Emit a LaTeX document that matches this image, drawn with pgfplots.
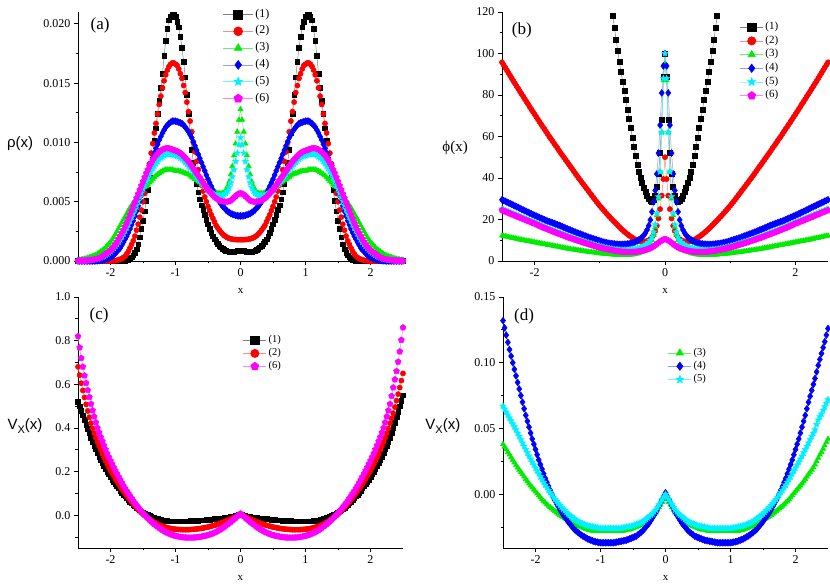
\documentclass[border=0pt]{standalone}
\usepackage{fontspec}
\setmainfont{Liberation Serif}
\newfontfamily\lsans{Liberation Sans}
\usepackage{pgfplots}
\usepackage{pgfplotstable}
\pgfplotsset{compat=1.18}

\definecolor{ogreen}{RGB}{0,235,0}
\definecolor{ocyan}{RGB}{0,240,255}
\definecolor{omag}{RGB}{255,0,255}

\pgfdeclareplotmark{fstar}{%
  \pgfpathmoveto{\pgfpointpolar{90}{\pgfplotmarksize}}%
  \pgfpathlineto{\pgfpointpolar{126}{0.45\pgfplotmarksize}}%
  \pgfpathlineto{\pgfpointpolar{162}{\pgfplotmarksize}}%
  \pgfpathlineto{\pgfpointpolar{198}{0.45\pgfplotmarksize}}%
  \pgfpathlineto{\pgfpointpolar{234}{\pgfplotmarksize}}%
  \pgfpathlineto{\pgfpointpolar{270}{0.45\pgfplotmarksize}}%
  \pgfpathlineto{\pgfpointpolar{306}{\pgfplotmarksize}}%
  \pgfpathlineto{\pgfpointpolar{342}{0.45\pgfplotmarksize}}%
  \pgfpathlineto{\pgfpointpolar{18}{\pgfplotmarksize}}%
  \pgfpathlineto{\pgfpointpolar{54}{0.45\pgfplotmarksize}}%
  \pgfpathclose
  \pgfusepathqfillstroke
}

\pgfplotsset{
  s1/.style={color=black!50, line width=0.5pt, mark=square*, mark size=2.3pt, mark options={draw=black, fill=black}},
  s2/.style={color=red!45, line width=0.5pt, mark=*, mark size=2.6pt, mark options={draw=red, fill=red}},
  s3/.style={color=ogreen!60, line width=0.5pt, mark=triangle*, mark size=3.0pt, mark options={draw=ogreen, fill=ogreen}},
  s4/.style={color=blue!40, line width=0.5pt, mark=diamond*, mark size=3.4pt, mark options={draw=blue, fill=blue}},
  s5/.style={color=ocyan!60, line width=0.5pt, mark=fstar, mark size=3.2pt, mark options={draw=ocyan, fill=ocyan}},
  s6/.style={color=omag!50, line width=0.5pt, mark=pentagon*, mark size=3.1pt, mark options={draw=omag, fill=omag}},
  base/.style={
    scale only axis, clip=false,
    axis x line*=bottom, axis y line*=left,
    axis line style={line width=0.8pt},
    tick align=outside, major tick length=4pt, minor tick length=2.5pt,
    tick style={black, line width=0.8pt},
    xmin=-2.5, xmax=2.5,
    /pgf/number format/assume math mode=true,
    tick label style={font=\fontsize{12}{12}\selectfont},
    xlabel={x},
    xlabel style={font=\fontsize{11}{11}\selectfont, at={(axis description cs:0.5,-0.12)}, anchor=center},
    scaled y ticks=false,
    legend cell align=left,
    legend image post style={mark size=4.5pt},
  },
  legA/.style={legend image code/.code={\draw[mark repeat=2,mark phase=2,##1] plot coordinates {(0pt,0pt) (15pt,0pt) (30pt,0pt)};}},
  legB/.style={legend image code/.code={\draw[mark repeat=2,mark phase=2,##1] plot coordinates {(0pt,0pt) (11.5pt,0pt) (23pt,0pt)};}},
}

\pgfplotstableread{
x k1 r2 g3 b4 c5 m6
-2.5 0 0 .00008 0 .00001 .00001
-2.475 0 0 .0001 0 .000015 .000015
-2.45 0 0 .00012 0 .00002 .00002
-2.425 0 0 .00015 0 .000025 .000025
-2.4 0 0 .00018 0 .00003 .00003
-2.375 0 0 .00021 0 .00004 .00004
-2.35 0 0 .00025 0 .00005 .00005
-2.325 0 0 .0003 0 .00006 .00006
-2.3 0 0 .00035 0 .00008 .00008
-2.275 0 0 .0004 0 .0001 .0001
-2.25 0 0 .00045 0 .00013 .00013
-2.225 0 0 .00052 .00001 .00016 .00016
-2.2 0 0 .0006 .00002 .0002 .0002
-2.175 0 0 .0007 .00003 .00025 .00025
-2.15 0 0 .0008 .00005 .0003 .0003
-2.125 0 0 .0009 .00007 .00035 .0004
-2.1 0 0 .001 .0001 .0004 .0005
-2.075 0 0 .00115 .00015 .0005 .0006
-2.05 0 0 .0013 .0002 .0006 .0007
-2.025 0 0 .00145 .00025 .0007 .0008
-2.0 0 0 .0016 .0003 .0008 .0009
-1.975 0 .00001 .0018 .0004 .00095 .00105
-1.95 0 .00002 .002 .0005 .0011 .0012
-1.925 0 .00004 .00225 .00065 .00125 .0014
-1.9 0 .00006 .0025 .0008 .0014 .0016
-1.875 0 .0001 .00275 .00095 .0016 .00185
-1.85 0 .00015 .003 .0011 .0018 .0021
-1.825 .00001 .0002 .00325 .00135 .00205 .00235
-1.8 .00002 .0003 .0035 .0016 .0023 .0026
-1.775 .00004 .0004 .00375 .00185 .00255 .0029
-1.75 .00007 .0006 .004 .0021 .0028 .0032
-1.725 .0001 .0008 .00425 .0024 .0031 .00355
-1.7 .0002 .0011 .0045 .0027 .0034 .0039
-1.675 .0003 .0014 .0047 .00305 .0037 .00425
-1.65 .0005 .0017 .0049 .0034 .004 .0046
-1.625 .0007 .0021 .0051 .0038 .00435 .00495
-1.6 .001 .0026 .0053 .0042 .0047 .0053
-1.575 .0014 .0031 .0055 .00465 .00505 .00565
-1.55 .002 .0037 .0057 .0051 .0054 .006
-1.525 .0027 .0043 .0059 .00555 .00575 .00635
-1.5 .0034 .005 .0061 .006 .0061 .0067
-1.475 .0042 .0057 .0062 .00645 .0064 .00705
-1.45 .0051 .0065 .0063 .0069 .0067 .0074
-1.425 .006 .0073 .00645 .00735 .007 .0077
-1.4 .007 .0082 .0066 .0078 .0073 .008
-1.375 .008 .0091 .00675 .00825 .00755 .00825
-1.35 .0091 .0099 .0069 .0087 .0078 .0085
-1.325 .0102 .0108 .00705 .0091 .008 .0087
-1.3 .0112 .0116 .0072 .0095 .0082 .0089
-1.275 .0124 .0124 .0073 .00985 .0084 .00905
-1.25 .0135 .0132 .0074 .0102 .0086 .0092
-1.225 .0146 .0139 .0075 .0105 .0087 .0093
-1.2 .0158 .0146 .0076 .0108 .0088 .0094
-1.175 .0173 .0152 .00765 .01105 .0089 .00945
-1.15 .0186 .0157 .0077 .0113 .009 .0095
-1.125 .0196 .0161 .0077 .01145 .009 .0095
-1.1 .0203 .0164 .0077 .0116 .009 .0095
-1.075 .0206 .0166 .0077 .0117 .009 .00945
-1.05 .0208 .0167 .0077 .0118 .009 .0094
-1.025 .0208 .0167 .00765 .0118 .00895 .00935
-1.0 .0206 .0166 .0076 .0118 .0089 .0093
-0.975 .0202 .0165 .0076 .01175 .00885 .00925
-0.95 .0197 .0162 .0076 .0117 .0088 .0092
-0.925 .0189 .0158 .00755 .01165 .0087 .0091
-0.9 .018 .0154 .0075 .0116 .0086 .009
-0.875 .0168 .0148 .00745 .01145 .00845 .00885
-0.85 .0155 .0142 .0074 .0113 .0083 .0087
-0.825 .014 .0134 .00735 .0111 .00815 .00855
-0.8 .0124 .0126 .0073 .0109 .008 .0084
-0.775 .0108 .0118 .0072 .01065 .00785 .0082
-0.75 .0094 .0109 .0071 .0104 .0077 .008
-0.725 .0083 .01 .007 .01005 .0075 .0078
-0.7 .0073 .0092 .0069 .0097 .0073 .0076
-0.675 .0065 .0084 .0068 .00935 .0071 .0074
-0.65 .0058 .0077 .0067 .009 .0069 .0072
-0.625 .0052 .007 .0066 .00865 .00675 .007
-0.6 .0047 .0064 .0065 .0083 .0066 .0068
-0.575 .0043 .0059 .0064 .00795 .00645 .0066
-0.55 .0039 .0054 .0063 .0076 .0063 .0064
-0.525 .0035 .005 .0062 .00725 .00615 .0062
-0.5 .0031 .0046 .0061 .0069 .006 .006
-0.475 .00273 .00425 .006 .0066 .0059 .00585
-0.45 .0024 .0039 .0059 .0063 .0058 .0057
-0.425 .0021 .0036 .00585 .006 .0057 .00555
-0.4 .00185 .0033 .0058 .0057 .0056 .0054
-0.375 .00164 .003 .00575 .00545 .00555 .0053
-0.35 .00146 .0028 .0057 .0052 .0055 .0052
-0.325 .0013 .0026 .0057 .005 .0055 .0051
-0.3 .00117 .00243 .0057 .0048 .0055 .00505
-0.275 .00105 .00228 .0057 .0046 .0055 .00502
-0.25 .00095 .00215 .0058 .0045 .0056 .005
-0.225 .00088 .00205 .006 .0043 .0057 .00498
-0.2 .00083 .00197 .0063 .0042 .0059 .005
-0.175 .0008 .00191 .0067 .0041 .0062 .00503
-0.15 .00079 .00187 .0073 .004 .0066 .0051
-0.125 .00079 .00184 .008 .00395 .0071 .00522
-0.1 .0008 .00182 .0089 .0039 .0077 .00535
-0.075 .00082 .00181 .0099 .00385 .0084 .00548
-0.05 .00085 .0018 .0109 .00382 .0091 .0056
-0.025 .00088 .0018 .0119 .0038 .0098 .00568
0 .0009 .0018 .0128 .0038 .0104 .0057
0.025 .00088 .0018 .0119 .0038 .0098 .00568
0.05 .00085 .0018 .0109 .00382 .0091 .0056
0.075 .00082 .00181 .0099 .00385 .0084 .00548
0.1 .0008 .00182 .0089 .0039 .0077 .00535
0.125 .00079 .00184 .008 .00395 .0071 .00522
0.15 .00079 .00187 .0073 .004 .0066 .0051
0.175 .0008 .00191 .0067 .0041 .0062 .00503
0.2 .00083 .00197 .0063 .0042 .0059 .005
0.225 .00088 .00205 .006 .0043 .0057 .00498
0.25 .00095 .00215 .0058 .0045 .0056 .005
0.275 .00105 .00228 .0057 .0046 .0055 .00502
0.3 .00117 .00243 .0057 .0048 .0055 .00505
0.325 .0013 .0026 .0057 .005 .0055 .0051
0.35 .00146 .0028 .0057 .0052 .0055 .0052
0.375 .00164 .003 .00575 .00545 .00555 .0053
0.4 .00185 .0033 .0058 .0057 .0056 .0054
0.425 .0021 .0036 .00585 .006 .0057 .00555
0.45 .0024 .0039 .0059 .0063 .0058 .0057
0.475 .00273 .00425 .006 .0066 .0059 .00585
0.5 .0031 .0046 .0061 .0069 .006 .006
0.525 .0035 .005 .0062 .00725 .00615 .0062
0.55 .0039 .0054 .0063 .0076 .0063 .0064
0.575 .0043 .0059 .0064 .00795 .00645 .0066
0.6 .0047 .0064 .0065 .0083 .0066 .0068
0.625 .0052 .007 .0066 .00865 .00675 .007
0.65 .0058 .0077 .0067 .009 .0069 .0072
0.675 .0065 .0084 .0068 .00935 .0071 .0074
0.7 .0073 .0092 .0069 .0097 .0073 .0076
0.725 .0083 .01 .007 .01005 .0075 .0078
0.75 .0094 .0109 .0071 .0104 .0077 .008
0.775 .0108 .0118 .0072 .01065 .00785 .0082
0.8 .0124 .0126 .0073 .0109 .008 .0084
0.825 .014 .0134 .00735 .0111 .00815 .00855
0.85 .0155 .0142 .0074 .0113 .0083 .0087
0.875 .0168 .0148 .00745 .01145 .00845 .00885
0.9 .018 .0154 .0075 .0116 .0086 .009
0.925 .0189 .0158 .00755 .01165 .0087 .0091
0.95 .0197 .0162 .0076 .0117 .0088 .0092
0.975 .0202 .0165 .0076 .01175 .00885 .00925
1.0 .0206 .0166 .0076 .0118 .0089 .0093
1.025 .0208 .0167 .00765 .0118 .00895 .00935
1.05 .0208 .0167 .0077 .0118 .009 .0094
1.075 .0206 .0166 .0077 .0117 .009 .00945
1.1 .0203 .0164 .0077 .0116 .009 .0095
1.125 .0196 .0161 .0077 .01145 .009 .0095
1.15 .0186 .0157 .0077 .0113 .009 .0095
1.175 .0173 .0152 .00765 .01105 .0089 .00945
1.2 .0158 .0146 .0076 .0108 .0088 .0094
1.225 .0146 .0139 .0075 .0105 .0087 .0093
1.25 .0135 .0132 .0074 .0102 .0086 .0092
1.275 .0124 .0124 .0073 .00985 .0084 .00905
1.3 .0112 .0116 .0072 .0095 .0082 .0089
1.325 .0102 .0108 .00705 .0091 .008 .0087
1.35 .0091 .0099 .0069 .0087 .0078 .0085
1.375 .008 .0091 .00675 .00825 .00755 .00825
1.4 .007 .0082 .0066 .0078 .0073 .008
1.425 .006 .0073 .00645 .00735 .007 .0077
1.45 .0051 .0065 .0063 .0069 .0067 .0074
1.475 .0042 .0057 .0062 .00645 .0064 .00705
1.5 .0034 .005 .0061 .006 .0061 .0067
1.525 .0027 .0043 .0059 .00555 .00575 .00635
1.55 .002 .0037 .0057 .0051 .0054 .006
1.575 .0014 .0031 .0055 .00465 .00505 .00565
1.6 .001 .0026 .0053 .0042 .0047 .0053
1.625 .0007 .0021 .0051 .0038 .00435 .00495
1.65 .0005 .0017 .0049 .0034 .004 .0046
1.675 .0003 .0014 .0047 .00305 .0037 .00425
1.7 .0002 .0011 .0045 .0027 .0034 .0039
1.725 .0001 .0008 .00425 .0024 .0031 .00355
1.75 .00007 .0006 .004 .0021 .0028 .0032
1.775 .00004 .0004 .00375 .00185 .00255 .0029
1.8 .00002 .0003 .0035 .0016 .0023 .0026
1.825 .00001 .0002 .00325 .00135 .00205 .00235
1.85 0 .00015 .003 .0011 .0018 .0021
1.875 0 .0001 .00275 .00095 .0016 .00185
1.9 0 .00006 .0025 .0008 .0014 .0016
1.925 0 .00004 .00225 .00065 .00125 .0014
1.95 0 .00002 .002 .0005 .0011 .0012
1.975 0 .00001 .0018 .0004 .00095 .00105
2.0 0 0 .0016 .0003 .0008 .0009
2.025 0 0 .00145 .00025 .0007 .0008
2.05 0 0 .0013 .0002 .0006 .0007
2.075 0 0 .00115 .00015 .0005 .0006
2.1 0 0 .001 .0001 .0004 .0005
2.125 0 0 .0009 .00007 .00035 .0004
2.15 0 0 .0008 .00005 .0003 .0003
2.175 0 0 .0007 .00003 .00025 .00025
2.2 0 0 .0006 .00002 .0002 .0002
2.225 0 0 .00052 .00001 .00016 .00016
2.25 0 0 .00045 0 .00013 .00013
2.275 0 0 .0004 0 .0001 .0001
2.3 0 0 .00035 0 .00008 .00008
2.325 0 0 .0003 0 .00006 .00006
2.35 0 0 .00025 0 .00005 .00005
2.375 0 0 .00021 0 .00004 .00004
2.4 0 0 .00018 0 .00003 .00003
2.425 0 0 .00015 0 .000025 .000025
2.45 0 0 .00012 0 .00002 .00002
2.475 0 0 .0001 0 .000015 .000015
2.5 0 0 .00008 0 .00001 .00001
}\tabA

\pgfplotstableread{
x y
-0.8 118
-0.775 112.2
-0.75 106.6
-0.725 101.2
-0.7 96
-0.675 91
-0.65 86.5
-0.625 82
-0.6 77.5
-0.575 73
-0.55 68.5
-0.525 64
-0.5 59.5
-0.475 55
-0.45 50.5
-0.425 46.5
-0.4 43
-0.375 40.3
-0.35 37.8
-0.325 35.5
-0.3 33.5
-0.275 31.5
-0.25 29.8
-0.225 28.8
-0.2 28.5
-0.175 29.3
-0.15 31.5
-0.125 36
-0.1 42
-0.075 52
-0.05 68
-0.025 89
0 100
0.025 89
0.05 68
0.075 52
0.1 42
0.125 36
0.15 31.5
0.175 29.3
0.2 28.5
0.225 28.8
0.25 29.8
0.275 31.5
0.3 33.5
0.325 35.5
0.35 37.8
0.375 40.3
0.4 43
0.425 46.5
0.45 50.5
0.475 55
0.5 59.5
0.525 64
0.55 68.5
0.575 73
0.6 77.5
0.625 82
0.65 86.5
0.675 91
0.7 96
0.725 101.2
0.75 106.6
0.775 112.2
0.8 118
}\tabBk

\pgfplotstableread{
x r2 g3 b4 c5 m6
-2.5 95.75 12.2 29.5 25.1 24.5
-2.475 94.5 12.05 29.15 24.75 24.15
-2.45 93.2 11.9 28.8 24.4 23.8
-2.425 91.9 11.7 28.4 24.1 23.5
-2.4 90.6 11.5 28 23.8 23.2
-2.375 89.3 11.35 27.65 23.45 22.85
-2.35 88 11.2 27.3 23.1 22.5
-2.325 86.7 11.05 26.9 22.8 22.2
-2.3 85.5 10.9 26.5 22.5 21.9
-2.275 84.2 10.7 26.15 22.15 21.55
-2.25 83 10.5 25.8 21.8 21.2
-2.225 81.7 10.35 25.4 21.5 20.9
-2.2 80.5 10.2 25 21.2 20.6
-2.175 79.3 10.05 24.6 20.85 20.25
-2.15 78 9.9 24.2 20.5 19.9
-2.125 76.8 9.75 23.85 20.2 19.6
-2.1 75.6 9.6 23.5 19.9 19.3
-2.075 74.3 9.45 23.1 19.55 18.95
-2.05 73.1 9.3 22.7 19.2 18.6
-2.025 71.9 9.15 22.35 18.9 18.3
-2.0 70.7 9 22 18.6 18
-1.975 69.5 8.85 21.65 18.25 17.65
-1.95 68.3 8.7 21.3 17.9 17.3
-1.925 67.1 8.55 20.95 17.55 16.95
-1.9 65.9 8.4 20.6 17.2 16.6
-1.875 64.7 8.25 20.25 16.85 16.25
-1.85 63.6 8.1 19.9 16.5 15.9
-1.825 62.4 7.95 19.55 16.2 15.6
-1.8 61.2 7.8 19.2 15.9 15.3
-1.775 60 7.65 18.95 15.55 14.95
-1.75 58.9 7.5 18.7 15.2 14.6
-1.725 57.8 7.35 18.4 14.9 14.3
-1.7 56.6 7.2 18.1 14.6 14
-1.675 55.5 7.05 17.8 14.3 13.7
-1.65 54.4 6.9 17.5 14 13.4
-1.625 53.2 6.75 17.2 13.7 13.1
-1.6 52.1 6.6 16.9 13.4 12.8
-1.575 51 6.45 16.55 13.1 12.5
-1.55 49.9 6.3 16.2 12.8 12.2
-1.525 48.8 6.15 15.85 12.5 11.9
-1.5 47.7 6 15.5 12.2 11.6
-1.475 46.6 5.85 15.2 11.9 11.3
-1.45 45.5 5.7 14.9 11.6 11
-1.425 44.4 5.6 14.55 11.35 10.75
-1.4 43.3 5.5 14.2 11.1 10.5
-1.375 42.2 5.35 13.9 10.8 10.2
-1.35 41.1 5.2 13.6 10.5 9.9
-1.325 40 5.1 13.3 10.25 9.65
-1.3 39 5 13 10 9.4
-1.275 37.9 4.85 12.7 9.75 9.15
-1.25 36.9 4.7 12.4 9.5 8.9
-1.225 35.8 4.6 12.1 9.25 8.65
-1.2 34.8 4.5 11.8 9 8.4
-1.175 33.8 4.4 11.5 8.75 8.15
-1.15 32.7 4.3 11.2 8.5 7.9
-1.125 31.7 4.2 10.95 8.25 7.65
-1.1 30.65 4.1 10.7 8 7.4
-1.075 29.6 4 10.45 7.75 7.15
-1.05 28.6 3.9 10.2 7.5 6.9
-1.025 27.6 3.8 9.95 7.3 6.7
-1.0 26.6 3.7 9.7 7.1 6.5
-0.975 25.7 3.6 9.45 6.9 6.3
-0.95 24.8 3.5 9.2 6.7 6.1
-0.925 23.9 3.45 9 6.5 5.9
-0.9 23 3.4 8.8 6.3 5.7
-0.875 22.1 3.3 8.65 6.15 5.55
-0.85 21.3 3.2 8.5 6 5.4
-0.825 20.4 3.15 8.4 5.85 5.25
-0.8 19.6 3.1 8.3 5.7 5.1
-0.775 18.8 3.05 8.2 5.6 4.95
-0.75 18 3 8.1 5.5 4.8
-0.725 17.2 2.95 8.05 5.4 4.7
-0.7 16.4 2.9 8 5.3 4.6
-0.675 15.6 2.9 8 5.25 4.5
-0.65 14.9 2.9 8 5.2 4.4
-0.625 14.2 2.9 8.05 5.2 4.35
-0.6 13.5 2.9 8.1 5.2 4.3
-0.575 12.9 2.95 8.2 5.25 4.27
-0.55 12.3 3 8.3 5.3 4.25
-0.525 11.7 3.05 8.5 5.4 4.27
-0.5 11.2 3.1 8.7 5.5 4.3
-0.475 10.7 3.25 9 5.65 4.35
-0.45 10.3 3.4 9.3 5.8 4.4
-0.425 9.9 3.6 9.7 6 4.5
-0.4 9.6 3.8 10.2 6.2 4.6
-0.375 9.4 4.1 10.8 6.5 4.75
-0.35 9.3 4.4 11.5 6.8 4.9
-0.325 9.3 4.8 12.4 7.2 5.1
-0.3 9.4 5.3 13.5 7.6 5.3
-0.275 9.6 6 15 8.2 5.6
-0.25 10 7 17 9 5.9
-0.225 10.6 8.2 19.8 10 6.2
-0.2 11.5 10 23.7 11.5 6.6
-0.175 12.7 12.5 28.5 14 7.1
-0.15 14.5 16.5 34 17.5 7.6
-0.125 17 22 42 23 8.2
-0.1 20.5 30 52 31 8.8
-0.075 25 43 65.5 43 9.4
-0.05 31.5 62 81 62 9.9
-0.025 39.5 87 94 88 10.3
0 50 95 100 100 10.5
0.025 39.5 87 94 88 10.3
0.05 31.5 62 81 62 9.9
0.075 25 43 65.5 43 9.4
0.1 20.5 30 52 31 8.8
0.125 17 22 42 23 8.2
0.15 14.5 16.5 34 17.5 7.6
0.175 12.7 12.5 28.5 14 7.1
0.2 11.5 10 23.7 11.5 6.6
0.225 10.6 8.2 19.8 10 6.2
0.25 10 7 17 9 5.9
0.275 9.6 6 15 8.2 5.6
0.3 9.4 5.3 13.5 7.6 5.3
0.325 9.3 4.8 12.4 7.2 5.1
0.35 9.3 4.4 11.5 6.8 4.9
0.375 9.4 4.1 10.8 6.5 4.75
0.4 9.6 3.8 10.2 6.2 4.6
0.425 9.9 3.6 9.7 6 4.5
0.45 10.3 3.4 9.3 5.8 4.4
0.475 10.7 3.25 9 5.65 4.35
0.5 11.2 3.1 8.7 5.5 4.3
0.525 11.7 3.05 8.5 5.4 4.27
0.55 12.3 3 8.3 5.3 4.25
0.575 12.9 2.95 8.2 5.25 4.27
0.6 13.5 2.9 8.1 5.2 4.3
0.625 14.2 2.9 8.05 5.2 4.35
0.65 14.9 2.9 8 5.2 4.4
0.675 15.6 2.9 8 5.25 4.5
0.7 16.4 2.9 8 5.3 4.6
0.725 17.2 2.95 8.05 5.4 4.7
0.75 18 3 8.1 5.5 4.8
0.775 18.8 3.05 8.2 5.6 4.95
0.8 19.6 3.1 8.3 5.7 5.1
0.825 20.4 3.15 8.4 5.85 5.25
0.85 21.3 3.2 8.5 6 5.4
0.875 22.1 3.3 8.65 6.15 5.55
0.9 23 3.4 8.8 6.3 5.7
0.925 23.9 3.45 9 6.5 5.9
0.95 24.8 3.5 9.2 6.7 6.1
0.975 25.7 3.6 9.45 6.9 6.3
1.0 26.6 3.7 9.7 7.1 6.5
1.025 27.6 3.8 9.95 7.3 6.7
1.05 28.6 3.9 10.2 7.5 6.9
1.075 29.6 4 10.45 7.75 7.15
1.1 30.65 4.1 10.7 8 7.4
1.125 31.7 4.2 10.95 8.25 7.65
1.15 32.7 4.3 11.2 8.5 7.9
1.175 33.8 4.4 11.5 8.75 8.15
1.2 34.8 4.5 11.8 9 8.4
1.225 35.8 4.6 12.1 9.25 8.65
1.25 36.9 4.7 12.4 9.5 8.9
1.275 37.9 4.85 12.7 9.75 9.15
1.3 39 5 13 10 9.4
1.325 40 5.1 13.3 10.25 9.65
1.35 41.1 5.2 13.6 10.5 9.9
1.375 42.2 5.35 13.9 10.8 10.2
1.4 43.3 5.5 14.2 11.1 10.5
1.425 44.4 5.6 14.55 11.35 10.75
1.45 45.5 5.7 14.9 11.6 11
1.475 46.6 5.85 15.2 11.9 11.3
1.5 47.7 6 15.5 12.2 11.6
1.525 48.8 6.15 15.85 12.5 11.9
1.55 49.9 6.3 16.2 12.8 12.2
1.575 51 6.45 16.55 13.1 12.5
1.6 52.1 6.6 16.9 13.4 12.8
1.625 53.2 6.75 17.2 13.7 13.1
1.65 54.4 6.9 17.5 14 13.4
1.675 55.5 7.05 17.8 14.3 13.7
1.7 56.6 7.2 18.1 14.6 14
1.725 57.8 7.35 18.4 14.9 14.3
1.75 58.9 7.5 18.7 15.2 14.6
1.775 60 7.65 18.95 15.55 14.95
1.8 61.2 7.8 19.2 15.9 15.3
1.825 62.4 7.95 19.55 16.2 15.6
1.85 63.6 8.1 19.9 16.5 15.9
1.875 64.7 8.25 20.25 16.85 16.25
1.9 65.9 8.4 20.6 17.2 16.6
1.925 67.1 8.55 20.95 17.55 16.95
1.95 68.3 8.7 21.3 17.9 17.3
1.975 69.5 8.85 21.65 18.25 17.65
2.0 70.7 9 22 18.6 18
2.025 71.9 9.15 22.35 18.9 18.3
2.05 73.1 9.3 22.7 19.2 18.6
2.075 74.3 9.45 23.1 19.55 18.95
2.1 75.6 9.6 23.5 19.9 19.3
2.125 76.8 9.75 23.85 20.2 19.6
2.15 78 9.9 24.2 20.5 19.9
2.175 79.3 10.05 24.6 20.85 20.25
2.2 80.5 10.2 25 21.2 20.6
2.225 81.7 10.35 25.4 21.5 20.9
2.25 83 10.5 25.8 21.8 21.2
2.275 84.2 10.7 26.15 22.15 21.55
2.3 85.5 10.9 26.5 22.5 21.9
2.325 86.7 11.05 26.9 22.8 22.2
2.35 88 11.2 27.3 23.1 22.5
2.375 89.3 11.35 27.65 23.45 22.85
2.4 90.6 11.5 28 23.8 23.2
2.425 91.9 11.7 28.4 24.1 23.5
2.45 93.2 11.9 28.8 24.4 23.8
2.475 94.5 12.05 29.15 24.75 24.15
2.5 95.75 12.2 29.5 25.1 24.5
}\tabB

\pgfplotstableread{
x k1 r2 m6
-2.5 .52 .68 .82
-2.475 .5 .642 .768
-2.45 .48 .605 .72
-2.425 .458 .572 .68
-2.4 .437 .54 .64
-2.375 .416 .508 .606
-2.35 .395 .478 .573
-2.325 .375 .449 .541
-2.3 .355 .422 .51
-2.275 .337 .398 .48
-2.25 .319 .376 .452
-2.225 .302 .355 .425
-2.2 .285 .335 .4
-2.175 .269 .317 .379
-2.15 .254 .299 .358
-2.125 .239 .282 .339
-2.1 .225 .265 .32
-2.075 .212 .2495 .301
-2.05 .199 .234 .283
-2.025 .187 .2195 .2665
-2.0 .175 .205 .25
-1.975 .164 .1925 .2345
-1.95 .153 .18 .219
-1.925 .143 .1675 .2045
-1.9 .133 .155 .19
-1.875 .123 .1435 .176
-1.85 .113 .132 .162
-1.825 .104 .121 .1485
-1.8 .095 .11 .135
-1.775 .087 .1 .123
-1.75 .079 .09 .111
-1.725 .071 .08 .0995
-1.7 .063 .07 .088
-1.675 .0555 .061 .077
-1.65 .048 .052 .066
-1.625 .0415 .0435 .056
-1.6 .035 .035 .046
-1.575 .029 .027 .0365
-1.55 .023 .019 .027
-1.525 .018 .012 .0185
-1.5 .013 .005 .01
-1.475 .009 -.001 .002
-1.45 .005 -.007 -.006
-1.425 .001 -.0125 -.0135
-1.4 -.003 -.018 -.021
-1.375 -.006 -.023 -.028
-1.35 -.009 -.028 -.035
-1.325 -.012 -.032 -.041
-1.3 -.015 -.036 -.047
-1.275 -.017 -.04 -.0525
-1.25 -.019 -.044 -.058
-1.225 -.021 -.047 -.063
-1.2 -.023 -.05 -.068
-1.175 -.024 -.0525 -.0725
-1.15 -.025 -.055 -.077
-1.125 -.026 -.057 -.0805
-1.1 -.027 -.059 -.084
-1.075 -.0275 -.0605 -.087
-1.05 -.028 -.062 -.09
-1.025 -.028 -.063 -.0925
-1.0 -.028 -.064 -.095
-0.975 -.028 -.0645 -.0965
-0.95 -.028 -.065 -.098
-0.925 -.028 -.0655 -.0995
-0.9 -.028 -.066 -.101
-0.875 -.0275 -.066 -.1015
-0.85 -.027 -.066 -.102
-0.825 -.027 -.066 -.1025
-0.8 -.027 -.066 -.103
-0.775 -.0265 -.0655 -.103
-0.75 -.026 -.065 -.103
-0.725 -.0255 -.0645 -.1025
-0.7 -.025 -.064 -.102
-0.675 -.0245 -.063 -.101
-0.65 -.024 -.062 -.1
-0.625 -.0235 -.061 -.099
-0.6 -.023 -.06 -.098
-0.575 -.0225 -.0585 -.0965
-0.55 -.022 -.057 -.095
-0.525 -.021 -.0555 -.093
-0.5 -.02 -.054 -.091
-0.475 -.0195 -.052 -.0885
-0.45 -.019 -.05 -.086
-0.425 -.018 -.048 -.083
-0.4 -.017 -.046 -.08
-0.375 -.0165 -.0435 -.076
-0.35 -.016 -.041 -.072
-0.325 -.015 -.0385 -.0675
-0.3 -.014 -.036 -.063
-0.275 -.013 -.033 -.058
-0.25 -.012 -.03 -.053
-0.225 -.011 -.027 -.0475
-0.2 -.01 -.024 -.042
-0.175 -.0085 -.0205 -.036
-0.15 -.007 -.017 -.03
-0.125 -.0055 -.0135 -.024
-0.1 -.004 -.01 -.018
-0.075 -.002 -.0065 -.0115
-0.05 0 -.003 -.005
-0.025 .0025 .001 .0015
0 .005 .005 .008
0.025 .0025 .001 .0015
0.05 0 -.003 -.005
0.075 -.002 -.0065 -.0115
0.1 -.004 -.01 -.018
0.125 -.0055 -.0135 -.024
0.15 -.007 -.017 -.03
0.175 -.0085 -.0205 -.036
0.2 -.01 -.024 -.042
0.225 -.011 -.027 -.0475
0.25 -.012 -.03 -.053
0.275 -.013 -.033 -.058
0.3 -.014 -.036 -.063
0.325 -.015 -.0385 -.0675
0.35 -.016 -.041 -.072
0.375 -.0165 -.0435 -.076
0.4 -.017 -.046 -.08
0.425 -.018 -.048 -.083
0.45 -.019 -.05 -.086
0.475 -.0195 -.052 -.0885
0.5 -.02 -.054 -.091
0.525 -.021 -.0555 -.093
0.55 -.022 -.057 -.095
0.575 -.0225 -.0585 -.0965
0.6 -.023 -.06 -.098
0.625 -.0235 -.061 -.099
0.65 -.024 -.062 -.1
0.675 -.0245 -.063 -.101
0.7 -.025 -.064 -.102
0.725 -.0255 -.0645 -.1025
0.75 -.026 -.065 -.103
0.775 -.0265 -.0655 -.103
0.8 -.027 -.066 -.103
0.825 -.027 -.066 -.1025
0.85 -.027 -.066 -.102
0.875 -.0275 -.066 -.1015
0.9 -.028 -.066 -.101
0.925 -.028 -.0655 -.0995
0.95 -.028 -.065 -.098
0.975 -.028 -.0645 -.0965
1.0 -.028 -.064 -.095
1.025 -.028 -.063 -.0925
1.05 -.028 -.062 -.09
1.075 -.0275 -.0605 -.087
1.1 -.027 -.059 -.084
1.125 -.026 -.057 -.0805
1.15 -.025 -.055 -.077
1.175 -.024 -.0525 -.0725
1.2 -.023 -.05 -.068
1.225 -.021 -.047 -.063
1.25 -.019 -.044 -.058
1.275 -.017 -.04 -.0525
1.3 -.015 -.036 -.047
1.325 -.012 -.032 -.041
1.35 -.009 -.028 -.035
1.375 -.006 -.023 -.028
1.4 -.003 -.018 -.021
1.425 .001 -.0125 -.0135
1.45 .005 -.007 -.006
1.475 .009 -.001 .002
1.5 .013 .005 .01
1.525 .018 .012 .0185
1.55 .023 .019 .027
1.575 .029 .027 .0365
1.6 .035 .035 .046
1.625 .0415 .0435 .056
1.65 .048 .052 .066
1.675 .0555 .061 .077
1.7 .063 .07 .088
1.725 .071 .08 .0995
1.75 .079 .09 .111
1.775 .087 .1 .123
1.8 .095 .11 .135
1.825 .104 .121 .1485
1.85 .113 .132 .162
1.875 .123 .1435 .176
1.9 .133 .155 .19
1.925 .143 .1675 .2045
1.95 .153 .18 .219
1.975 .164 .1925 .2345
2.0 .175 .205 .25
2.025 .187 .2195 .2665
2.05 .199 .234 .283
2.075 .212 .2495 .301
2.1 .225 .265 .32
2.125 .239 .282 .339
2.15 .254 .299 .358
2.175 .269 .317 .379
2.2 .285 .335 .4
2.225 .302 .355 .425
2.25 .319 .376 .452
2.275 .337 .398 .48
2.3 .355 .422 .51
2.325 .377 .445 .546
2.35 .4 .468 .585
2.375 .425 .496 .622
2.4 .45 .525 .66
2.425 .475 .555 .703
2.45 .5 .585 .75
2.475 .525 .617 .803
2.5 .55 .65 .86
}\tabC

\pgfplotstableread{
x g3 b4 c5
-2.5 .038 .132 .067
-2.475 .036 .1265 .0648
-2.45 .034 .121 .0625
-2.425 .032 .1155 .0603
-2.4 .03 .11 .058
-2.375 .028 .105 .0558
-2.35 .026 .1 .0535
-2.325 .024 .095 .0513
-2.3 .022 .09 .049
-2.275 .02025 .085 .0465
-2.25 .0185 .08 .044
-2.225 .01675 .075 .0415
-2.2 .015 .07 .039
-2.175 .01325 .065 .0365
-2.15 .0115 .06 .034
-2.125 .00975 .0555 .0315
-2.1 .008 .051 .029
-2.075 .0065 .0465 .0268
-2.05 .005 .042 .0245
-2.025 .0035 .038 .0223
-2.0 .002 .034 .02
-1.975 .0005 .03 .0178
-1.95 -.001 .026 .0155
-1.925 -.0025 .0225 .0133
-1.9 -.004 .019 .011
-1.875 -.00525 .0155 .009
-1.85 -.0065 .012 .007
-1.825 -.00775 .009 .005
-1.8 -.009 .006 .003
-1.775 -.01 .003 .0013
-1.75 -.011 0 -.0005
-1.725 -.012 -.0025 -.0023
-1.7 -.013 -.005 -.004
-1.675 -.014 -.0073 -.0055
-1.65 -.015 -.0095 -.007
-1.625 -.016 -.0118 -.0085
-1.6 -.017 -.014 -.01
-1.575 -.0175 -.0158 -.0113
-1.55 -.0185 -.0175 -.0125
-1.525 -.019 -.019 -.0138
-1.5 -.02 -.021 -.015
-1.475 -.0205 -.0225 -.016
-1.45 -.0215 -.024 -.017
-1.425 -.022 -.0255 -.018
-1.4 -.023 -.027 -.019
-1.375 -.0235 -.028 -.0198
-1.35 -.024 -.029 -.0205
-1.325 -.0245 -.03 -.0213
-1.3 -.025 -.031 -.022
-1.275 -.0255 -.0318 -.0225
-1.25 -.026 -.0325 -.023
-1.225 -.0265 -.0333 -.0235
-1.2 -.027 -.034 -.024
-1.175 -.0275 -.0345 -.0243
-1.15 -.0275 -.035 -.0245
-1.125 -.028 -.0355 -.0248
-1.1 -.028 -.036 -.025
-1.075 -.028 -.0363 -.0253
-1.05 -.028 -.0365 -.0255
-1.025 -.028 -.0368 -.0258
-1.0 -.028 -.037 -.026
-0.975 -.028 -.037 -.026
-0.95 -.028 -.037 -.026
-0.925 -.028 -.037 -.026
-0.9 -.028 -.037 -.026
-0.875 -.028 -.037 -.026
-0.85 -.028 -.037 -.026
-0.825 -.028 -.037 -.026
-0.8 -.028 -.037 -.026
-0.775 -.028 -.0368 -.026
-0.75 -.028 -.0365 -.026
-0.725 -.028 -.0363 -.026
-0.7 -.028 -.036 -.026
-0.675 -.028 -.0358 -.0258
-0.65 -.028 -.0355 -.0255
-0.625 -.0275 -.0353 -.0253
-0.6 -.027 -.035 -.025
-0.575 -.027 -.0345 -.0248
-0.55 -.027 -.034 -.0245
-0.525 -.0265 -.0335 -.0243
-0.5 -.026 -.033 -.024
-0.475 -.0255 -.0325 -.0235
-0.45 -.025 -.032 -.023
-0.425 -.0245 -.031 -.0225
-0.4 -.024 -.03 -.022
-0.375 -.0235 -.029 -.0215
-0.35 -.023 -.028 -.021
-0.325 -.022 -.0265 -.02
-0.3 -.021 -.025 -.019
-0.275 -.02 -.0235 -.018
-0.25 -.019 -.022 -.017
-0.225 -.018 -.02 -.016
-0.2 -.017 -.018 -.015
-0.175 -.0155 -.016 -.0135
-0.15 -.014 -.014 -.012
-0.125 -.012 -.0115 -.01
-0.1 -.01 -.009 -.008
-0.075 -.008 -.0065 -.006
-0.05 -.006 -.004 -.004
-0.025 -.004 -.0015 -.002
0 -.002 .001 0
0.025 -.004 -.0015 -.002
0.05 -.006 -.004 -.004
0.075 -.008 -.0065 -.006
0.1 -.01 -.009 -.008
0.125 -.012 -.0115 -.01
0.15 -.014 -.014 -.012
0.175 -.0155 -.016 -.0135
0.2 -.017 -.018 -.015
0.225 -.018 -.02 -.016
0.25 -.019 -.022 -.017
0.275 -.02 -.0235 -.018
0.3 -.021 -.025 -.019
0.325 -.022 -.0265 -.02
0.35 -.023 -.028 -.021
0.375 -.0235 -.029 -.0215
0.4 -.024 -.03 -.022
0.425 -.0245 -.031 -.0225
0.45 -.025 -.032 -.023
0.475 -.0255 -.0325 -.0235
0.5 -.026 -.033 -.024
0.525 -.0265 -.0335 -.0243
0.55 -.027 -.034 -.0245
0.575 -.027 -.0345 -.0248
0.6 -.027 -.035 -.025
0.625 -.0275 -.0353 -.0253
0.65 -.028 -.0355 -.0255
0.675 -.028 -.0358 -.0258
0.7 -.028 -.036 -.026
0.725 -.028 -.0363 -.026
0.75 -.028 -.0365 -.026
0.775 -.028 -.0368 -.026
0.8 -.028 -.037 -.026
0.825 -.028 -.037 -.026
0.85 -.028 -.037 -.026
0.875 -.028 -.037 -.026
0.9 -.028 -.037 -.026
0.925 -.028 -.037 -.026
0.95 -.028 -.037 -.026
0.975 -.028 -.037 -.026
1.0 -.028 -.037 -.026
1.025 -.028 -.0368 -.0258
1.05 -.028 -.0365 -.0255
1.075 -.028 -.0363 -.0253
1.1 -.028 -.036 -.025
1.125 -.028 -.0355 -.0248
1.15 -.0275 -.035 -.0245
1.175 -.0275 -.0345 -.0243
1.2 -.027 -.034 -.024
1.225 -.0265 -.0333 -.0235
1.25 -.026 -.0325 -.023
1.275 -.0255 -.0318 -.0225
1.3 -.025 -.031 -.022
1.325 -.0245 -.03 -.0213
1.35 -.024 -.029 -.0205
1.375 -.0235 -.028 -.0198
1.4 -.023 -.027 -.019
1.425 -.022 -.0255 -.018
1.45 -.0215 -.024 -.017
1.475 -.0205 -.0225 -.016
1.5 -.02 -.021 -.015
1.525 -.019 -.019 -.0138
1.55 -.0185 -.0175 -.0125
1.575 -.0175 -.0158 -.0113
1.6 -.017 -.014 -.01
1.625 -.016 -.0118 -.0085
1.65 -.015 -.0095 -.007
1.675 -.014 -.0073 -.0055
1.7 -.013 -.005 -.004
1.725 -.012 -.0025 -.0023
1.75 -.011 0 -.0005
1.775 -.01 .003 .0013
1.8 -.009 .006 .003
1.825 -.00775 .009 .005
1.85 -.0065 .012 .007
1.875 -.00525 .0155 .009
1.9 -.004 .019 .011
1.925 -.0025 .0225 .0133
1.95 -.001 .026 .0155
1.975 .0005 .03 .0178
2.0 .002 .034 .02
2.025 .0035 .038 .0223
2.05 .005 .042 .0245
2.075 .0065 .0465 .0268
2.1 .008 .051 .029
2.125 .00975 .0555 .0315
2.15 .0115 .06 .034
2.175 .01325 .065 .0365
2.2 .015 .07 .039
2.225 .01675 .0745 .0415
2.25 .0185 .079 .044
2.275 .0203 .0835 .0465
2.3 .0225 .088 .049
2.325 .025 .093 .053
2.35 .0275 .098 .0565
2.375 .03 .1025 .059
2.4 .032 .107 .061
2.425 .0345 .1115 .0638
2.45 .037 .116 .0665
2.475 .0395 .121 .0693
2.5 .042 .126 .072
}\tabD

\begin{document}
\begin{tikzpicture}
\useasboundingbox (0,0) rectangle (830pt,586pt);

% ---------- (a)
\begin{axis}[base, legA,
  at={(78pt,325pt)}, anchor=south west, width=325pt, height=249pt,
  ymin=0, ymax=0.021,
  xtick={-2,-1,0,1,2}, minor x tick num=1,
  ytick={0,0.005,0.01,0.015,0.02}, minor ytick={0.0025,0.0075,0.0125,0.0175},
  yticklabel style={/pgf/number format/.cd, fixed, fixed zerofill, precision=3},
  ylabel={\lsans ρ(x)},
  ylabel style={rotate=-90, at={(axis description cs:-0.178,0.47)}, anchor=center, font=\fontsize{15}{15}\selectfont},
  legend style={draw=none, fill=none, inner sep=0pt, outer sep=0pt, row sep=5.8pt, column sep=2pt,
    font=\fontsize{12}{12}\selectfont, nodes={inner sep=0pt, text height=8pt, text depth=3pt},
    at={(axis description cs:0.446,1.012)}, anchor=north west},
]
\addplot[s1] table[x=x,y=k1]{\tabA};
\addplot[s2] table[x=x,y=r2]{\tabA};
\addplot[s3] table[x=x,y=g3]{\tabA};
\addplot[s4] table[x=x,y=b4]{\tabA};
\addplot[s5] table[x=x,y=c5]{\tabA};
\addplot[s6] table[x=x,y=m6]{\tabA};
\legend{(1),(2),(3),(4),(5),(6)}
\node[font=\fontsize{17}{17}\selectfont] at (axis description cs:0.068,0.946) {(a)};
\end{axis}

% ---------- (b)
\begin{axis}[base, legB,
  at={(502pt,325pt)}, anchor=south west, width=326pt, height=249pt,
  ymin=0, ymax=120,
  xtick={-2,0,2}, minor x tick num=1,
  ytick={0,20,40,60,80,100,120}, minor y tick num=1,
  ylabel={ϕ(x)},
  ylabel style={rotate=-90, at={(axis description cs:-0.144,0.454)}, anchor=center, font=\fontsize{15}{15}\selectfont},
  legend style={draw=none, fill=none, inner sep=0pt, outer sep=0pt, row sep=3.2pt, column sep=2pt,
    font=\fontsize{11}{11}\selectfont, nodes={inner sep=0pt, text height=7.5pt, text depth=3pt},
    at={(axis description cs:0.730,0.960)}, anchor=north west},
  legend image post style={mark size=4.2pt},
]
\addplot[s1, mark size=2.5pt] table[x=x,y=y]{\tabBk};
\addplot[s2] table[x=x,y=r2]{\tabB};
\addplot[s3] table[x=x,y=g3]{\tabB};
\addplot[s4] table[x=x,y=b4]{\tabB};
\addplot[s5] table[x=x,y=c5]{\tabB};
\addplot[s6] table[x=x,y=m6]{\tabB};
\legend{(1),(2),(3),(4),(5),(6)}
\node[font=\fontsize{17}{17}\selectfont] at (axis description cs:0.061,0.925) {(b)};
\end{axis}

% ---------- (c)
\begin{axis}[base, legB,
  at={(78pt,38pt)}, anchor=south west, width=325pt, height=251pt,
  ymin=-0.15, ymax=1.0,
  xtick={-2,-1,0,1,2}, minor x tick num=1,
  ytick={0,0.2,0.4,0.6,0.8,1.0}, minor ytick={-0.1,0.1,0.3,0.5,0.7,0.9},
  yticklabel style={/pgf/number format/.cd, fixed, fixed zerofill, precision=1},
  ylabel={\lsans V\raisebox{-3.5pt}{\fontsize{11}{11}\selectfont X}(x)},
  ylabel style={rotate=-90, at={(axis description cs:-0.163,0.486)}, anchor=center, font=\fontsize{15}{15}\selectfont},
  legend style={draw=none, fill=none, inner sep=0pt, outer sep=0pt, row sep=3pt, column sep=2pt,
    font=\fontsize{10.5}{10.5}\selectfont, nodes={inner sep=0pt, text height=7.2pt, text depth=2.8pt},
    at={(axis description cs:0.508,0.847)}, anchor=north west},
  legend image post style={mark size=4.2pt},
]
\addplot[s1] table[x=x,y=k1]{\tabC};
\addplot[s2] table[x=x,y=r2]{\tabC};
\addplot[s6] table[x=x,y=m6]{\tabC};
\legend{(1),(2),(6)}
\node[font=\fontsize{17}{17}\selectfont] at (axis description cs:0.065,0.925) {(c)};
\end{axis}

% ---------- (d)
\begin{axis}[base, legB,
  at={(503pt,38pt)}, anchor=south west, width=325pt, height=251pt,
  ymin=-0.041, ymax=0.15,
  xtick={-2,-1,0,1,2}, minor x tick num=1,
  ytick={0,0.05,0.1,0.15}, minor ytick={-0.025,0.025,0.075,0.125},
  yticklabel style={/pgf/number format/.cd, fixed, fixed zerofill, precision=2},
  ylabel={\lsans V\raisebox{-3.5pt}{\fontsize{11}{11}\selectfont X}(x)},
  ylabel style={rotate=-90, at={(axis description cs:-0.185,0.486)}, anchor=center, font=\fontsize{15}{15}\selectfont},
  legend style={draw=none, fill=none, inner sep=0pt, outer sep=0pt, row sep=3.3pt, column sep=2pt,
    font=\fontsize{10.5}{10.5}\selectfont, nodes={inner sep=0pt, text height=7.2pt, text depth=2.8pt},
    at={(axis description cs:0.508,0.797)}, anchor=north west},
  legend image post style={mark size=4.2pt},
]
\addplot[s3] table[x=x,y=g3]{\tabD};
\addplot[s4] table[x=x,y=b4]{\tabD};
\addplot[s5] table[x=x,y=c5]{\tabD};
\legend{(3),(4),(5)}
\node[font=\fontsize{17}{17}\selectfont] at (axis description cs:0.065,0.923) {(d)};
\end{axis}
\end{tikzpicture}
\end{document}
